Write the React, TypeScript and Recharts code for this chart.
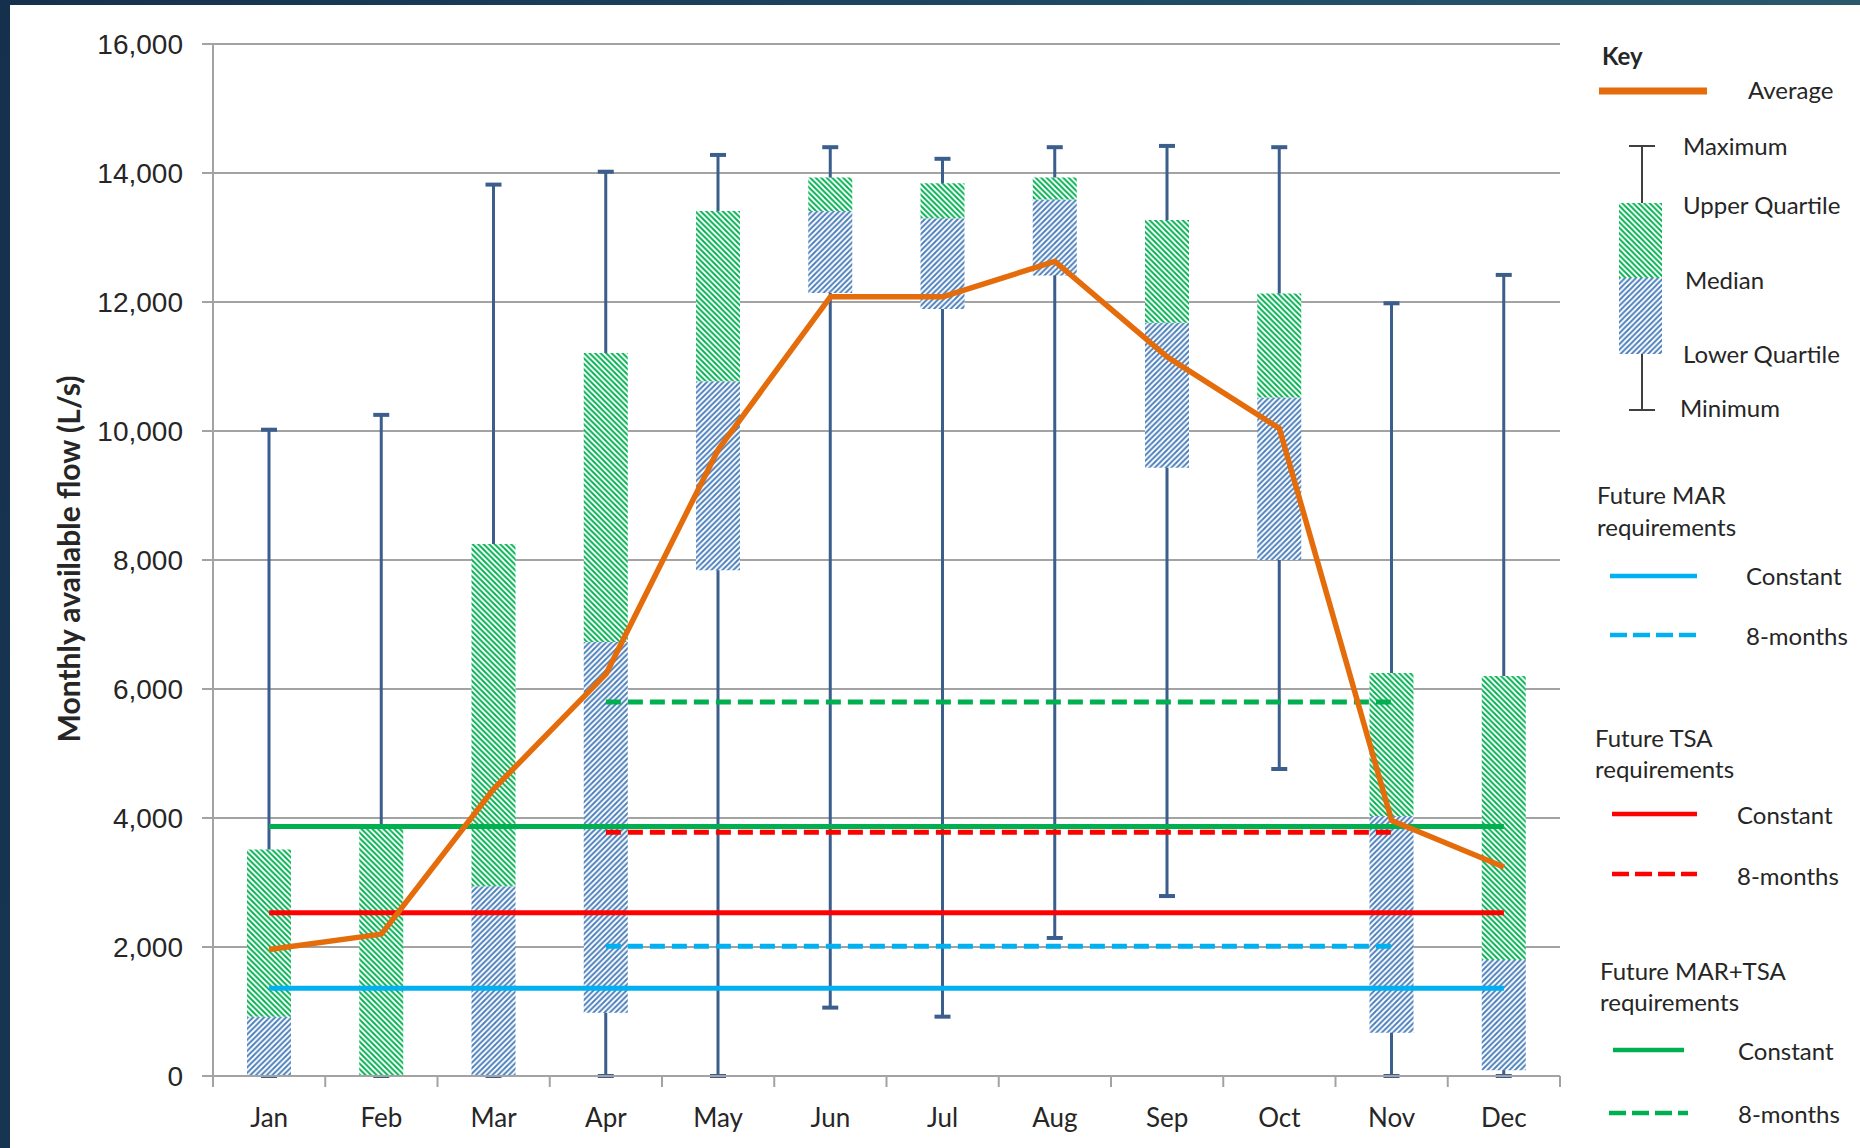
import React from 'react';
import { ComposedChart, Bar, Line, XAxis, YAxis, CartesianGrid } from 'recharts';

// ---------- data ----------
const months = ['Jan', 'Feb', 'Mar', 'Apr', 'May', 'Jun', 'Jul', 'Aug', 'Sep', 'Oct', 'Nov', 'Dec'];
const minFlow = [0, 0, 0, 0, 0, 1060, 920, 2140, 2790, 4760, 0, 0];
const lowerQuartile = [0, 0, 0, 980, 7840, 12140, 11890, 12410, 9430, 8000, 670, 90];
const medianFlow = [920, 0, 2940, 6730, 10770, 13410, 13300, 13590, 11680, 10520, 4030, 1800];
const upperQuartile = [3510, 3830, 8250, 11210, 13410, 13930, 13840, 13930, 13270, 12130, 6250, 6200];
const maxFlow = [10020, 10250, 13820, 14020, 14280, 14400, 14220, 14400, 14420, 14400, 11980, 12420];
const averageFlow = [1960, 2200, 4450, 6230, 9710, 12080, 12080, 12630, 11150, 10040, 3960, 3240];
const eightMonths = ['Apr', 'May', 'Jun', 'Jul', 'Aug', 'Sep', 'Oct', 'Nov'];
const marConstant = 1360;
const mar8Months = 2010;
const tsaConstant = 2530;
const tsa8Months = 3780;
const bothConstant = 3870;
const both8Months = 5800;
const yTicks = [0, 2000, 4000, 6000, 8000, 10000, 12000, 14000, 16000];

// ---------- style constants ----------
const W = 1860;
const H = 1148;
const PLOT_LEFT = 213;
const PLOT_RIGHT = 1560;
const PLOT_TOP = 44;
const PLOT_BOTTOM = 1076;
const BAND = (PLOT_RIGHT - PLOT_LEFT) / months.length;
const GRID = '#a3a3a3';
const TEXT = '#262626';
const ORANGE = '#E46C0A';
const SKY = '#00B0F0';
const RED = '#FF0000';
const GREEN = '#00B050';
const HATCH_BLUE = '#4A7EBB';
const WHISKER = '#3B5E8C';
const SANS = 'Lato, "Open Sans", sans-serif';
const TICK_FONT = '"Liberation Sans", Arial, sans-serif';

const rows = months.map((m, i) => {
  const in8 = eightMonths.includes(m);
  return {
    month: m,
    base: lowerQuartile[i],
    lowBox: medianFlow[i] - lowerQuartile[i],
    highBox: upperQuartile[i] - medianFlow[i],
    whisker: [minFlow[i], maxFlow[i]],
    average: averageFlow[i],
    marC: marConstant,
    mar8: in8 ? mar8Months : null,
    tsaC: tsaConstant,
    tsa8: in8 ? tsa8Months : null,
    bothC: bothConstant,
    both8: in8 ? both8Months : null,
  };
});

const HatchDefs = ({ prefix }: { prefix: string }) => (
  <defs>
    <pattern id={`${prefix}blue`} patternUnits="userSpaceOnUse" width={5.5} height={5.5}>
      <rect x={0} y={0} width={5.5} height={5.5} fill="#ffffff" />
      <path d="M0,5.5 L5.5,0 M-1,1 L1,-1 M4.5,6.5 L6.5,4.5" stroke={HATCH_BLUE} strokeWidth={1.9} />
    </pattern>
    <pattern id={`${prefix}green`} patternUnits="userSpaceOnUse" width={5.5} height={5.5}>
      <rect x={0} y={0} width={5.5} height={5.5} fill="#ffffff" />
      <path d="M0,0 L5.5,5.5 M-1,4.5 L1,6.5 M4.5,-1 L6.5,1" stroke={GREEN} strokeWidth={1.9} />
    </pattern>
  </defs>
);

const WhiskerShape = (props: any) => {
  const { x, y, width, height } = props;
  if (x == null || y == null) return null;
  const cx = x + width / 2;
  const top = Math.min(y, y + height);
  const bottom = Math.max(y, y + height);
  return (
    <g stroke={WHISKER}>
      <line x1={cx} x2={cx} y1={top} y2={bottom} strokeWidth={3} />
      <line x1={cx - 8} x2={cx + 8} y1={top} y2={top} strokeWidth={4} />
      <line x1={cx - 8} x2={cx + 8} y1={bottom} y2={bottom} strokeWidth={4} />
    </g>
  );
};

const MonthTick = (props: any) => {
  const { payload, index } = props;
  const x = payload.coordinate;
  const left = x - BAND / 2;
  const right = x + BAND / 2;
  return (
    <g>
      <line x1={left} x2={left} y1={PLOT_BOTTOM} y2={PLOT_BOTTOM + 11} stroke={GRID} strokeWidth={2} />
      {index === months.length - 1 && (
        <line x1={right} x2={right} y1={PLOT_BOTTOM} y2={PLOT_BOTTOM + 11} stroke={GRID} strokeWidth={2} />
      )}
      <text
        x={x}
        y={PLOT_BOTTOM + 41}
        textAnchor="middle"
        dominantBaseline="central"
        fill={TEXT}
        style={{ fontFamily: SANS, fontSize: 26 }}
      >
        {payload.value}
      </text>
    </g>
  );
};

const YTitle = () => (
  <text
    x={68}
    y={559}
    transform="rotate(-90, 68, 559)"
    textAnchor="middle"
    dominantBaseline="central"
    fill={TEXT}
    style={{ fontFamily: SANS, fontSize: 30, fontWeight: 700 }}
  >
    Monthly available flow (L/s)
  </text>
);

const fmt = (v: number) => v.toLocaleString('en-US');

const LegendText = ({ x, y, children, bold }: any) => (
  <text
    x={x}
    y={y}
    dominantBaseline="central"
    fill={TEXT}
    style={{ fontFamily: SANS, fontSize: 24, fontWeight: bold ? 700 : 400 }}
  >
    {children}
  </text>
);

const KeyPanel = () => (
  <svg width={W} height={H} style={{ position: 'absolute', left: 0, top: 0, pointerEvents: 'none' }}>
    <HatchDefs prefix="lg-" />
    <LegendText x={1602} y={55} bold>Key</LegendText>
    <line x1={1599} x2={1707} y1={91} y2={91} stroke={ORANGE} strokeWidth={7} />
    <LegendText x={1748} y={89}>Average</LegendText>

    <g stroke="#404040" strokeWidth={2}>
      <line x1={1642} x2={1642} y1={146} y2={203} />
      <line x1={1629} x2={1655} y1={146} y2={146} />
      <line x1={1642} x2={1642} y1={354} y2={410} />
      <line x1={1629} x2={1655} y1={410} y2={410} />
    </g>
    <rect x={1619} y={203} width={43} height={75} fill="url(#lg-green)" />
    <rect x={1619} y={278} width={43} height={76} fill="url(#lg-blue)" />
    <LegendText x={1683} y={145}>Maximum</LegendText>
    <LegendText x={1683} y={204}>Upper Quartile</LegendText>
    <LegendText x={1685} y={279}>Median</LegendText>
    <LegendText x={1683} y={353}>Lower Quartile</LegendText>
    <LegendText x={1680} y={407}>Minimum</LegendText>

    <LegendText x={1597} y={494}>Future MAR</LegendText>
    <LegendText x={1597} y={526}>requirements</LegendText>
    <line x1={1610} x2={1697} y1={576} y2={576} stroke={SKY} strokeWidth={4.5} />
    <LegendText x={1746} y={575}>Constant</LegendText>
    <line x1={1610} x2={1697} y1={635} y2={635} stroke={SKY} strokeWidth={4.5} strokeDasharray="17 6" />
    <LegendText x={1746} y={635}>8-months</LegendText>

    <LegendText x={1595} y={737}>Future TSA</LegendText>
    <LegendText x={1595} y={768}>requirements</LegendText>
    <line x1={1612} x2={1697} y1={814} y2={814} stroke={RED} strokeWidth={4.5} />
    <LegendText x={1737} y={814}>Constant</LegendText>
    <line x1={1612} x2={1697} y1={874} y2={874} stroke={RED} strokeWidth={4.5} strokeDasharray="17 6" />
    <LegendText x={1737} y={875}>8-months</LegendText>

    <LegendText x={1600} y={970}>Future MAR+TSA</LegendText>
    <LegendText x={1600} y={1001}>requirements</LegendText>
    <line x1={1613} x2={1684} y1={1050} y2={1050} stroke={GREEN} strokeWidth={4.5} />
    <LegendText x={1738} y={1050}>Constant</LegendText>
    <line x1={1609} x2={1688} y1={1113} y2={1113} stroke={GREEN} strokeWidth={4.5} strokeDasharray="17 6" />
    <LegendText x={1738} y={1113}>8-months</LegendText>
  </svg>
);

export default function App() {
  return (
    <div
      style={{
        position: 'absolute',
        left: 0,
        top: 0,
        width: W,
        height: H,
        overflow: 'hidden',
        background: 'linear-gradient(100deg, #15304c 0%, #1f4a66 55%, #2d5c6d 100%)',
      }}
    >
      <div style={{ position: 'absolute', left: 10, top: 5, width: W - 10, height: H - 5, background: '#ffffff' }} />
      <div style={{ position: 'absolute', left: 0, top: 0 }}>
        <ComposedChart
          width={W}
          height={H}
          data={rows}
          margin={{ top: PLOT_TOP, right: W - PLOT_RIGHT, bottom: 12, left: PLOT_LEFT - 90 }}
        >
          <HatchDefs prefix="ch-" />
          <CartesianGrid xAxisId="b" vertical={false} stroke={GRID} strokeWidth={2} />
          <XAxis
            xAxisId="b"
            dataKey="month"
            height={60}
            axisLine={{ stroke: GRID, strokeWidth: 2 }}
            tickLine={false}
            tick={<MonthTick />}
            interval={0}
          />
          <XAxis xAxisId="w" dataKey="month" hide />
          <YAxis
            width={90}
            domain={[0, 16000]}
            ticks={yTicks}
            tickFormatter={fmt}
            axisLine={{ stroke: GRID, strokeWidth: 2 }}
            tickLine={{ stroke: GRID, strokeWidth: 2 }}
            tickSize={11}
            tickMargin={19}
            tick={{ fill: TEXT, fontSize: 28, fontFamily: TICK_FONT }}
            label={<YTitle />}
          />
          <Bar xAxisId="w" dataKey="whisker" barSize={16} shape={<WhiskerShape />} isAnimationActive={false} />
          <Bar xAxisId="b" dataKey="base" stackId="box" barSize={44} fill="none" isAnimationActive={false} />
          <Bar xAxisId="b" dataKey="lowBox" stackId="box" barSize={44} fill="url(#ch-blue)" isAnimationActive={false} />
          <Bar xAxisId="b" dataKey="highBox" stackId="box" barSize={44} fill="url(#ch-green)" isAnimationActive={false} />
          <Line xAxisId="b" dataKey="marC" stroke={SKY} strokeWidth={5} dot={false} isAnimationActive={false} />
          <Line xAxisId="b" dataKey="mar8" stroke={SKY} strokeWidth={5} strokeDasharray="15 7" dot={false} isAnimationActive={false} />
          <Line xAxisId="b" dataKey="tsaC" stroke={RED} strokeWidth={5} dot={false} isAnimationActive={false} />
          <Line xAxisId="b" dataKey="tsa8" stroke={RED} strokeWidth={5} strokeDasharray="15 7" dot={false} isAnimationActive={false} />
          <Line xAxisId="b" dataKey="bothC" stroke={GREEN} strokeWidth={5} dot={false} isAnimationActive={false} />
          <Line xAxisId="b" dataKey="both8" stroke={GREEN} strokeWidth={5} strokeDasharray="15 7" dot={false} isAnimationActive={false} />
          <Line
            xAxisId="b"
            dataKey="average"
            stroke={ORANGE}
            strokeWidth={5.5}
            strokeLinejoin="round"
            dot={false}
            isAnimationActive={false}
          />
        </ComposedChart>
      </div>
      <KeyPanel />
    </div>
  );
}
